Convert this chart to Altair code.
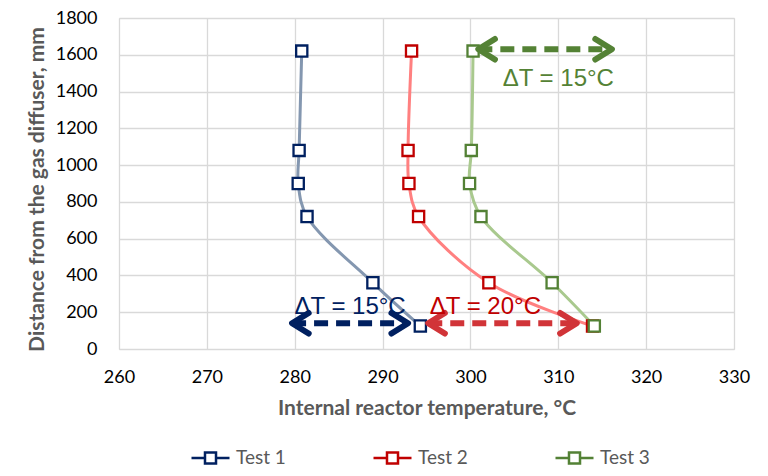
import altair as alt
import pandas as pd

# ---- data ----
SERIES = ["Test 1", "Test 2", "Test 3"]
HEIGHTS = [1620, 1080, 900, 720, 360, 125]
TEST1 = [280.8, 280.5, 280.4, 281.4, 288.9, 294.3]
TEST2 = [293.3, 292.9, 293.0, 294.1, 302.1, 313.9]
TEST3 = [300.3, 300.1, 299.9, 301.2, 309.3, 314.1]

MARKER_COLORS = ["#002060", "#C00000", "#538135"]
LINE_COLORS = ["#8497B0", "#FF8080", "#A9C98E"]

X_TICKS = [260, 270, 280, 290, 300, 310, 320, 330]
Y_TICKS = [0, 200, 400, 600, 800, 1000, 1200, 1400, 1600, 1800]

# annotation arrows
A_LABELS = ["ΔT = 15°C", "ΔT = 20°C", "ΔT = 15°C"]
A_X1 = [279.7, 295.2, 300.9]
A_X2 = [292.9, 312.1, 316.1]
A_Y = [140, 140, 1630]
T_X = [286.3, 301.7, 310.0]
T_Y = [228, 228, 1469]
A_COLORS = ["#002060", "#D13438", "#548235"]
T_COLORS = ["#002060", "#C00000", "#548235"]

rows = []
for name, vals in zip(SERIES, [TEST1, TEST2, TEST3]):
    for i, (h, t) in enumerate(zip(HEIGHTS, vals)):
        rows.append({"series": name, "line_series": name, "temp": t, "h": h, "idx": i})
df = pd.DataFrame(rows)

FONT = "Lato"
xscale = alt.Scale(domain=[260, 330], nice=False, zero=False)
yscale = alt.Scale(domain=[0, 1800], nice=False)

x_axis = alt.Axis(values=X_TICKS, tickCount=len(X_TICKS), format="d",
                  title="Internal reactor temperature, °C",
                  labelFont=FONT, labelFontSize=18, labelColor="#000000",
                  labelPadding=19, labelFlush=False, labelOverlap=False,
                  titleFont=FONT, titleFontSize=21,
                  titleFontWeight="bold", titleColor="#595959", titlePadding=11,
                  domain=False, ticks=False, grid=True, gridColor="#d9d9d9",
                  gridWidth=1.3)
y_axis = alt.Axis(values=Y_TICKS, tickCount=len(Y_TICKS), format="d",
                  title="Distance from the gas diffuser, mm",
                  labelFont=FONT, labelFontSize=18, labelColor="#000000",
                  labelPadding=22, labelFlush=False, labelOverlap=False,
                  titleFont=FONT, titleFontSize=21, titleY=171,
                  titleFontWeight="bold", titleColor="#595959", titlePadding=8,
                  domain=False, ticks=False, grid=True, gridColor="#d9d9d9",
                  gridWidth=1.3)


def X(field):
    return alt.X(field, type="quantitative", scale=xscale, axis=x_axis)


def Y(field):
    return alt.Y(field, type="quantitative", scale=yscale, axis=y_axis)


lines = alt.Chart(df).mark_line(strokeWidth=3, interpolate="catmull-rom").encode(
    x=X("temp"), y=Y("h"),
    stroke=alt.Stroke("line_series:N", scale=alt.Scale(domain=SERIES, range=LINE_COLORS),
                      legend=None),
    detail="series:N",
    order="idx:Q",
)

points = alt.Chart(df).mark_point(shape="square", size=125, filled=False, fill="white",
                                  fillOpacity=1, strokeWidth=2.3, opacity=1).encode(
    x=X("temp"), y=Y("h"),
    color=alt.Color("series:N", scale=alt.Scale(domain=SERIES, range=MARKER_COLORS),
                    legend=alt.Legend(
                        symbolType="M-1,0H-0.29M0.29,0H1M-0.29,-0.29H0.29V0.29H-0.29Z",
                        symbolStrokeWidth=2.5, symbolFillColor="white",
                        orient="none", legendX=71, legendY=419, direction="horizontal",
                        title=None, padding=0, labelFont=FONT, labelFontSize=19,
                        labelColor="#595959", labelOffset=5, columnPadding=82,
                        symbolSize=1444)),
)

layers = [lines, points]

LEFT_HEAD = "M1,-0.62L0,0L1,0.62"
RIGHT_HEAD = "M-1,-0.62L0,0L-1,0.62"
for i in range(len(A_LABELS)):
    adf = pd.DataFrame({"x1": [A_X1[i]], "x2": [A_X2[i]], "y": [A_Y[i]],
                        "tx": [T_X[i]], "ty": [T_Y[i]], "label": [A_LABELS[i]]})
    base = alt.Chart(adf)
    rule = base.mark_rule(strokeWidth=6, strokeDash=[14, 8]).encode(
        x=X("x1"), x2="x2:Q", y=Y("y"), color=alt.value(A_COLORS[i]))
    lh = base.mark_point(shape=LEFT_HEAD, size=1100, filled=False, strokeWidth=6,
                         strokeCap="round", strokeJoin="round", opacity=1).encode(
        x=X("x1"), y=Y("y"), color=alt.value(A_COLORS[i]))
    rh = base.mark_point(shape=RIGHT_HEAD, size=1100, filled=False, strokeWidth=6,
                         strokeCap="round", strokeJoin="round", opacity=1).encode(
        x=X("x2"), y=Y("y"), color=alt.value(A_COLORS[i]))
    txt = base.mark_text(font="Liberation Sans", fontSize=24, baseline="middle",
                         align="center").encode(
        x=X("tx"), y=Y("ty"), text="label:N", color=alt.value(T_COLORS[i]))
    layers += [rule, lh, rh, txt]

chart = alt.layer(*layers).resolve_scale(color="independent").properties(
    width=615, height=331,
    autosize=alt.AutoSizeParams(type="none"),
    padding={"left": 111, "top": 10, "right": 26, "bottom": 119},
).configure_view(fill="#f0f0f0", stroke="#d9d9d9", strokeWidth=1.3
).configure(background="white")

chart.save("out.html", embed_options={"renderer": "svg", "actions": False})
